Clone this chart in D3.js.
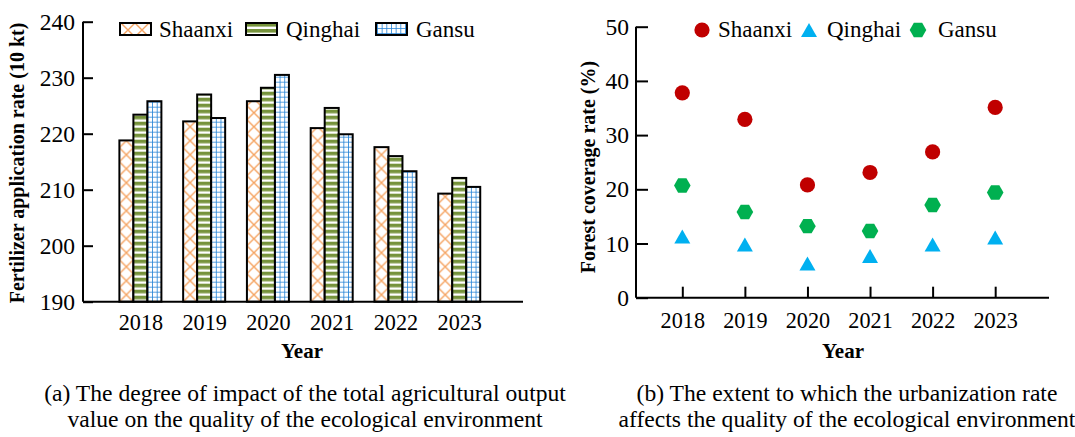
<!DOCTYPE html>
<html><head><meta charset="utf-8">
<script src="https://cdn.jsdelivr.net/npm/d3@7/dist/d3.min.js"></script>
<style>
html,body{margin:0;padding:0;background:#fff;}
svg{display:block;}
text{font-family:"Liberation Serif","Times New Roman",serif;fill:#000;}
</style></head>
<body>
<svg id="c" width="1075" height="437"></svg>
<script>
// ---- data ----
const years = [2018, 2019, 2020, 2021, 2022, 2023];
const seriesNames = ["Shaanxi", "Qinghai", "Gansu"];
const fertShaanxi = [218.8, 222.2, 225.8, 221.0, 217.6, 209.3];
const fertQinghai = [223.4, 227.0, 228.2, 224.6, 216.0, 212.1];
const fertGansu   = [225.8, 222.8, 230.5, 219.9, 213.3, 210.5];
const forestShaanxi = [37.8, 32.9, 20.8, 23.1, 26.9, 35.1];
const forestQinghai = [11.3, 9.8, 6.3, 7.7, 9.8, 11.1];
const forestGansu   = [20.7, 15.8, 13.2, 12.3, 17.1, 19.4];
const fertTicks = [190, 200, 210, 220, 230, 240];
const forestTicks = [0, 10, 20, 30, 40, 50];
const captionA = ["(a) The degree of impact of the total agricultural output", "value on the quality of the ecological environment"];
const captionB = ["(b) The extent to which the urbanization rate", "affects the quality of the ecological environment"];

const svg = d3.select("#c");
const defs = svg.append("defs");

// ===== Left chart =====
const xL = d3.scaleLinear().domain([2017.1, 2024]).range([83, 523]);
const yL = d3.scaleLinear().domain([190, 240]).range([301.7, 21.7]);
const barW = 14;
const fertSeries = [fertShaanxi, fertQinghai, fertGansu];
const offsets = [-1.5, -0.5, 0.5];

function makePattern(id, kind, x0, y0) {
  let p;
  if (kind === 0) {
    p = defs.append("pattern").attr("id", id).attr("patternUnits", "userSpaceOnUse")
      .attr("x", x0).attr("y", y0).attr("width", 14).attr("height", 14);
    p.append("rect").attr("width", 14).attr("height", 14).attr("fill", "#fff");
    p.append("path").attr("d", "M0,0L14,14M14,0L0,14").attr("stroke", "#F5A462").attr("stroke-width", 1.4).attr("fill", "none");
  } else if (kind === 1) {
    p = defs.append("pattern").attr("id", id).attr("patternUnits", "userSpaceOnUse")
      .attr("x", x0).attr("y", y0).attr("width", 14).attr("height", 6);
    p.append("rect").attr("width", 14).attr("height", 6).attr("fill", "#fff");
    p.append("rect").attr("y", 0).attr("width", 14).attr("height", 3.6).attr("fill", "#76933C");
  } else {
    p = defs.append("pattern").attr("id", id).attr("patternUnits", "userSpaceOnUse")
      .attr("x", x0).attr("y", y0).attr("width", 14 / 3).attr("height", 5);
    p.append("rect").attr("width", 14 / 3).attr("height", 5).attr("fill", "#fff");
    p.append("path").attr("d", "M0,0V5M0,0H4.667").attr("stroke", "#2382D6").attr("stroke-width", 1.6).attr("fill", "none");
  }
}

const gL = svg.append("g");
fertSeries.forEach((vals, s) => {
  vals.forEach((v, i) => {
    const bx = xL(years[i]) + offsets[s] * barW;
    const id = "p" + s + "_" + i;
    makePattern(id, s, bx, yL(190));
    gL.append("rect")
      .attr("x", bx).attr("y", yL(v))
      .attr("width", barW).attr("height", yL(190) - yL(v))
      .attr("fill", "url(#" + id + ")")
      .attr("stroke", "#000").attr("stroke-width", 2);
  });
});

// axes left
const axL = d3.axisLeft(yL).tickValues(fertTicks).tickSizeInner(-10).tickSizeOuter(0).tickPadding(8);
const gyL = svg.append("g").attr("transform", "translate(83,0)").call(axL);
gyL.select(".domain").attr("stroke-width", 2).attr("d", "M0," + yL(240) + "V" + yL(190));
gyL.selectAll(".tick line").attr("stroke-width", 2);
gyL.selectAll("text").attr("font-size", 23.5).attr("font-family", "Liberation Serif").attr("fill", "#000");

const axXL = d3.axisBottom(xL).tickValues(years).tickFormat(d3.format("d")).tickSize(0).tickPadding(12.5);
const gxL = svg.append("g").attr("transform", "translate(0," + yL(190) + ")").call(axXL);
gxL.select(".domain").attr("stroke-width", 2).attr("d", "M83,0H523");
gxL.selectAll("text").attr("font-size", 22.2).attr("font-family", "Liberation Serif").attr("fill", "#000");

svg.append("text").attr("transform", "translate(24,163) rotate(-90)")
  .attr("text-anchor", "middle").attr("font-weight", "bold").attr("font-size", 20)
  .text("Fertilizer application rate (10 kt)");
svg.append("text").attr("x", 302).attr("y", 358).attr("text-anchor", "middle")
  .attr("font-weight", "bold").attr("font-size", 21).text("Year");

// legend left
const legBoxX = [120, 246, 376];
const legTextX = [159, 286, 416];
seriesNames.forEach((n, s) => {
  const id = "lp" + s;
  makePattern(id, s, legBoxX[s] + 1, 23);
  svg.append("rect").attr("x", legBoxX[s]).attr("y", 23).attr("width", 31).attr("height", 12)
    .attr("fill", "url(#" + id + ")").attr("stroke", "#000").attr("stroke-width", 2);
  svg.append("text").attr("x", legTextX[s]).attr("y", 37).attr("font-size", 23).text(n);
});

// ===== Right chart =====
const xR = d3.scaleLinear().domain([2017.26, 2023.86]).range([636, 1049]);
const yR = d3.scaleLinear().domain([0, 50]).range([297.7, 26.7]);

const axR = d3.axisLeft(yR).tickValues(forestTicks).tickSizeInner(-12).tickSizeOuter(0).tickPadding(7);
const gyR = svg.append("g").attr("transform", "translate(636,0)").call(axR);
gyR.select(".domain").attr("stroke-width", 2).attr("d", "M0," + yR(50) + "V" + yR(0));
gyR.selectAll(".tick line").attr("stroke-width", 2);
gyR.selectAll("text").attr("font-size", 23.5).attr("font-family", "Liberation Serif").attr("fill", "#000");

const axXR = d3.axisBottom(xR).tickValues(years).tickFormat(d3.format("d")).tickSizeInner(-11).tickSizeOuter(0).tickPadding(14.5);
const gxR = svg.append("g").attr("transform", "translate(0," + yR(0) + ")").call(axXR);
gxR.select(".domain").attr("stroke-width", 2).attr("d", "M636,0H1049");
gxR.selectAll(".tick line").attr("stroke-width", 2);
gxR.selectAll("text").attr("font-size", 22.2).attr("font-family", "Liberation Serif").attr("fill", "#000");

svg.append("text").attr("transform", "translate(595,167) rotate(-90)")
  .attr("text-anchor", "middle").attr("font-weight", "bold").attr("font-size", 20)
  .text("Forest coverage rate (%)");
svg.append("text").attr("x", 843).attr("y", 358).attr("text-anchor", "middle")
  .attr("font-weight", "bold").attr("font-size", 21).text("Year");

const colors = ["#C00000", "#00B0F0", "#00B050"];
const triPath = "M0,-7L8,7L-8,7Z";
const hexPath = d3.range(6).map(k => {
  const a = k * Math.PI / 3;
  return (k ? "L" : "M") + (8.3 * Math.cos(a)).toFixed(2) + "," + (8.3 * Math.sin(a)).toFixed(2);
}).join("") + "Z";

function drawMarker(g, s, x, y) {
  if (s === 0) g.append("circle").attr("cx", x).attr("cy", y).attr("r", 7.6).attr("fill", colors[0]);
  else if (s === 1) g.append("path").attr("d", triPath).attr("transform", "translate(" + x + "," + y + ")").attr("fill", colors[1]);
  else g.append("path").attr("d", hexPath).attr("transform", "translate(" + x + "," + y + ")").attr("fill", colors[2]);
}
const gR = svg.append("g");
[forestShaanxi, forestQinghai, forestGansu].forEach((vals, s) => {
  vals.forEach((v, i) => drawMarker(gR, s, xR(years[i]), yR(v)));
});

// legend right
const legMX = [702, 809, 918];
const legMTX = [718, 827, 938];
seriesNames.forEach((n, s) => {
  drawMarker(svg, s, legMX[s], 30);
  svg.append("text").attr("x", legMTX[s]).attr("y", 37).attr("font-size", 23).text(n);
});

// ===== Captions =====
[[captionA, 305], [captionB, 847]].forEach(([lines, cx]) => {
  lines.forEach((t, k) => {
    svg.append("text").attr("x", cx).attr("y", k ? 427.3 : 400.7)
      .attr("text-anchor", "middle").attr("font-size", 23.6).text(t);
  });
});
</script>
</body></html>
